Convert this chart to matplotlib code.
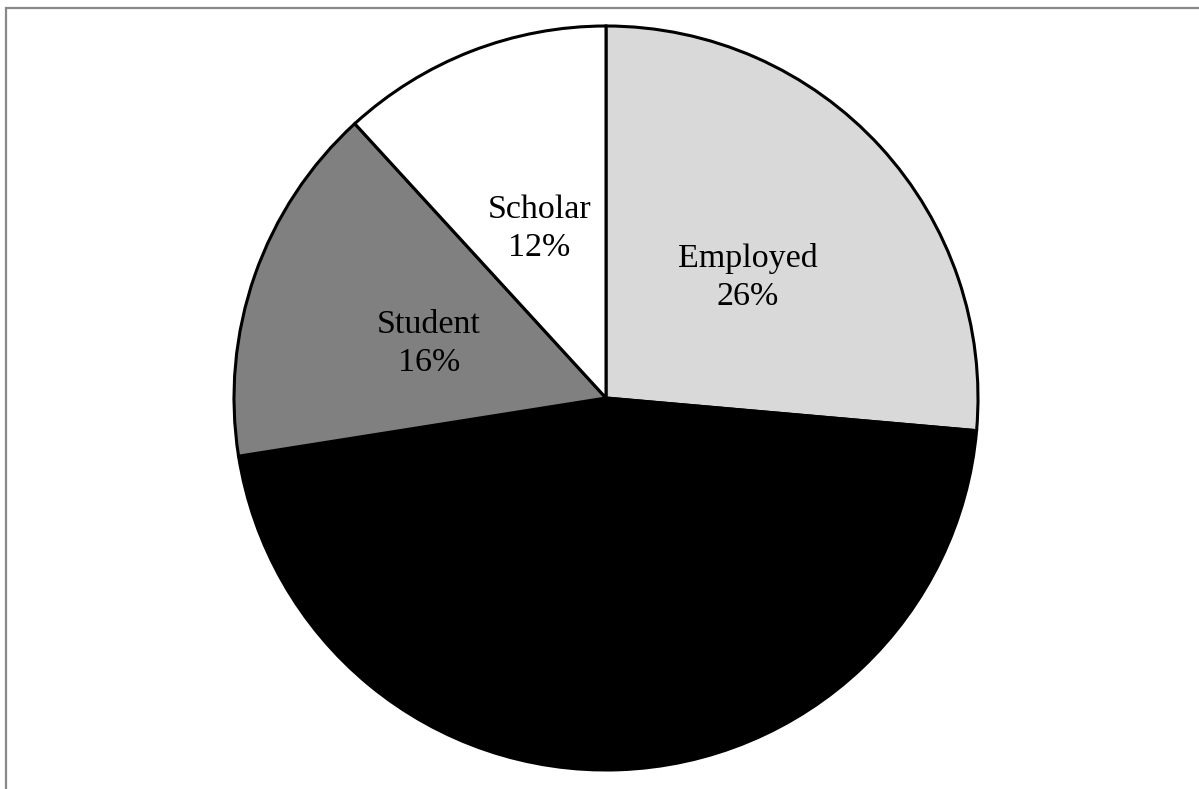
import matplotlib
matplotlib.use("Agg")
import matplotlib.pyplot as plt
from matplotlib.patches import Rectangle
from matplotlib.transforms import ScaledTranslation

categories = ["Employed", "Unemployed", "Student", "Scholar"]
values = [26.4, 46.1, 15.7, 11.8]
colors = ["#d9d9d9", "#000000", "#808080", "#ffffff"]
show_label = [True, False, True, True]

W, H = 1199, 789
fig = plt.figure(figsize=(W / 100, H / 100), dpi=100)
fig.patch.set_facecolor("white")

cx, cy, R = 606, 398, 372
ax = fig.add_axes([(cx - R) / W, (H - cy - R) / H, 2 * R / W, 2 * R / H])

total = sum(values)
labels = [f"{c}\n{round(v / total * 100):d}%" if s else ""
          for c, v, s in zip(categories, values, show_label)]
wedges, texts = ax.pie(values, colors=colors, startangle=90, counterclock=False,
                       labels=labels, labeldistance=0.51,
                       wedgeprops=dict(edgecolor="black", linewidth=2.2))
shift = ScaledTranslation(2 / 100, -8 / 100, fig.dpi_scale_trans)
for t in texts:
    t.set_horizontalalignment("center")
    t.set_verticalalignment("center")
    t.set_fontfamily("Liberation Serif")
    t.set_fontsize(24.5)
    t.set_multialignment("center")
    t.set_linespacing(1.32)
    t.set_transform(t.get_transform() + shift)
ax.set_xlim(-1, 1)
ax.set_ylim(-1, 1)
ax.set_aspect("equal")
ax.axis("off")

fig.patches.append(Rectangle((6 / W, -0.05), 1.2, (H - 8) / H + 0.05,
                             transform=fig.transFigure, fill=False,
                             edgecolor="#888888", linewidth=1.6))

fig.savefig("out.png", dpi=100, facecolor="white")
